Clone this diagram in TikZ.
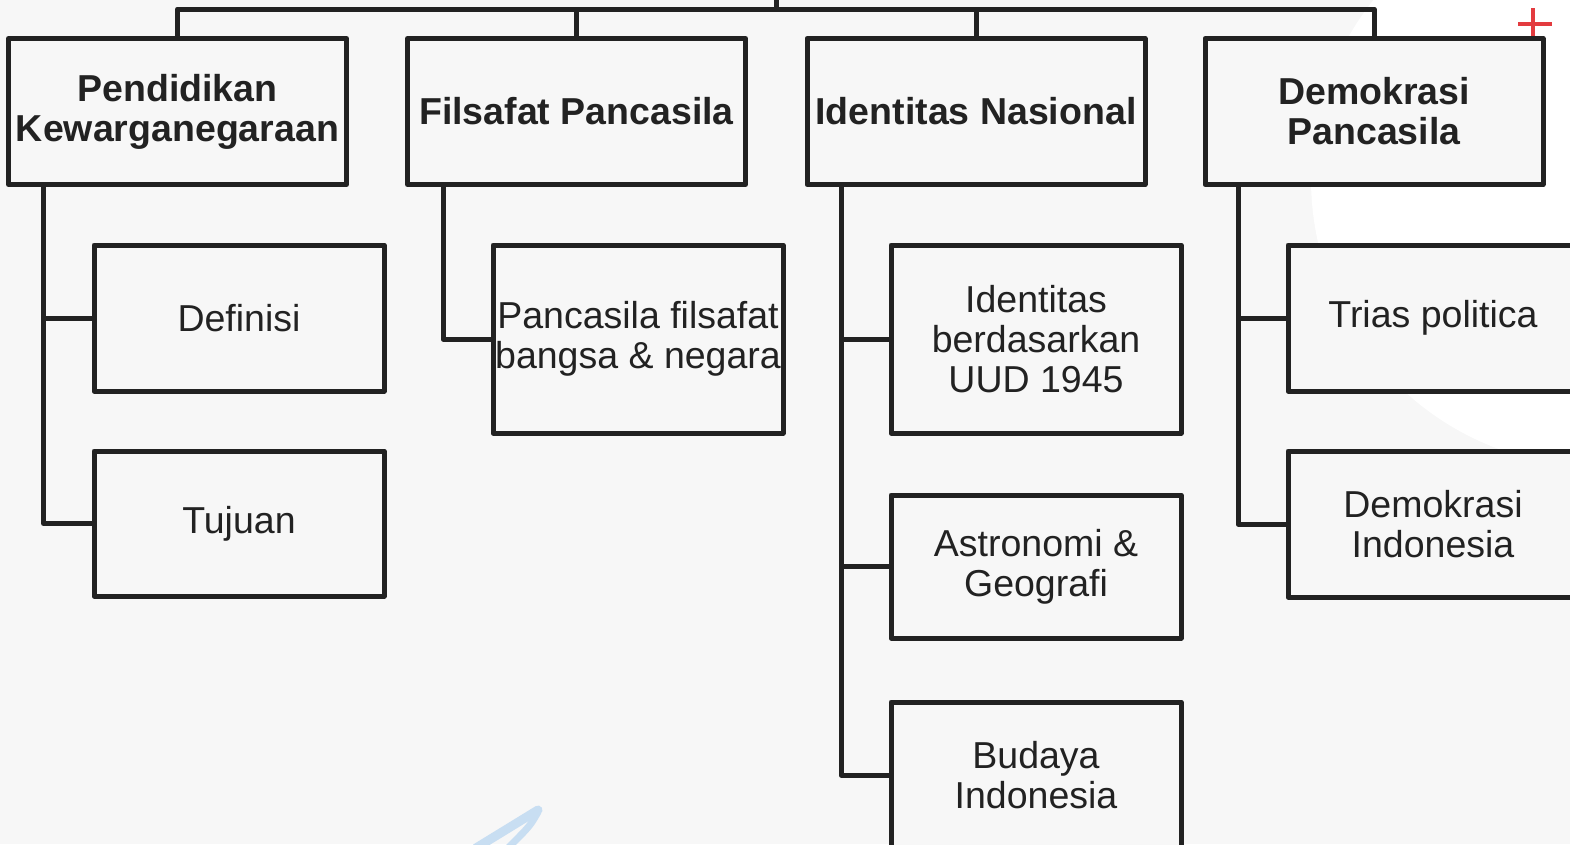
\documentclass[tikz,border=0pt]{standalone}
\usepackage{fontspec}
\setmainfont{Liberation Sans}
\definecolor{bg}{HTML}{F7F7F7}
\definecolor{ink}{HTML}{222222}
\definecolor{penblue}{HTML}{C8DEF2}
\definecolor{plusred}{HTML}{E33B3F}
\begin{document}
\begin{tikzpicture}[x=1pt,y=-1pt,
  box/.style={draw=ink,line width=5pt,fill=bg,rectangle,inner sep=0pt,align=center,text=ink,line join=round},
  headbox/.style={box,minimum width=338pt,minimum height=146pt,font=\fontsize{37.5}{40}\selectfont\bfseries},
  subbox/.style={box,minimum width=290pt,font=\fontsize{37.5}{40}\selectfont},
  link/.style={draw=ink,line width=5pt,line join=round}]
\useasboundingbox (0,0) rectangle (1570,844);
\clip (0,0) rectangle (1570,844);
\fill[bg] (0,0) rectangle (1570,844);
\fill[white] (1599,179) circle (288);
% decorations
\draw[penblue,line width=9pt,line cap=round] (538,810) -- (476,848);
\draw[penblue,line width=7pt,line cap=round] (538,812) .. controls (530,826) .. (508,848);
\draw[plusred,line width=4.5pt] (1518,24) -- (1552,24);
\draw[plusred,line width=4.5pt] (1533,8) -- (1533,38);
% headers
\node[headbox] (h1) at (177.5,111.5) {Pendidikan\\Kewarganegaraan};
\node[headbox] (h2) at (576.5,111.5) {Filsafat Pancasila};
\node[headbox] (h3) at (976,111.5) {Identitas Nasional};
\node[headbox] (h4) at (1374,111.5) {Demokrasi\\Pancasila};
% children
\node[subbox,minimum height=146pt] (c11) at (239,318) {Definisi};
\node[subbox,minimum height=145pt] (c12) at (239,523.5) {Tujuan};
\node[subbox,minimum height=188pt] (c21) at (638,339) {Pancasila filsafat\\bangsa \& negara};
\node[subbox,minimum height=188pt] (c31) at (1036,339) {Identitas\\berdasarkan\\UUD 1945};
\node[subbox,minimum height=143pt] (c32) at (1036,566.5) {Astronomi \&\\Geografi};
\node[subbox,minimum height=146pt] (c33) at (1036,775) {Budaya\\Indonesia};
\node[subbox,minimum height=146pt] (c41) at (1433,318) {Trias politica};
\node[subbox,minimum height=146pt] (c42) at (1433,524) {Demokrasi\\Indonesia};
% top bar
\coordinate (bar) at (776,9);
\coordinate (topend) at (776,-4);
\draw[link] (h1.north) |- (bar) -- (h4.north |- bar) -- (h4.north);
\draw[link] (h2.north) -- (h2.north |- bar);
\draw[link] (h3.north) -- (h3.north |- bar);
\draw[link] (bar) -- (topend);
% spines
\draw[link] ([xshift=37.5pt]h1.south west) |- (c11.west);
\draw[link] ([xshift=37.5pt]h1.south west) |- (c12.west);
\draw[link] ([xshift=38pt]h2.south west) |- (c21.west);
\draw[link] ([xshift=36.5pt]h3.south west) |- (c31.west);
\draw[link] ([xshift=36.5pt]h3.south west) |- (c32.west);
\draw[link] ([xshift=36.5pt]h3.south west) |- (c33.west);
\draw[link] ([xshift=35.5pt]h4.south west) |- (c41.west);
\draw[link] ([xshift=35.5pt]h4.south west) |- (c42.west);
\end{tikzpicture}
\end{document}
